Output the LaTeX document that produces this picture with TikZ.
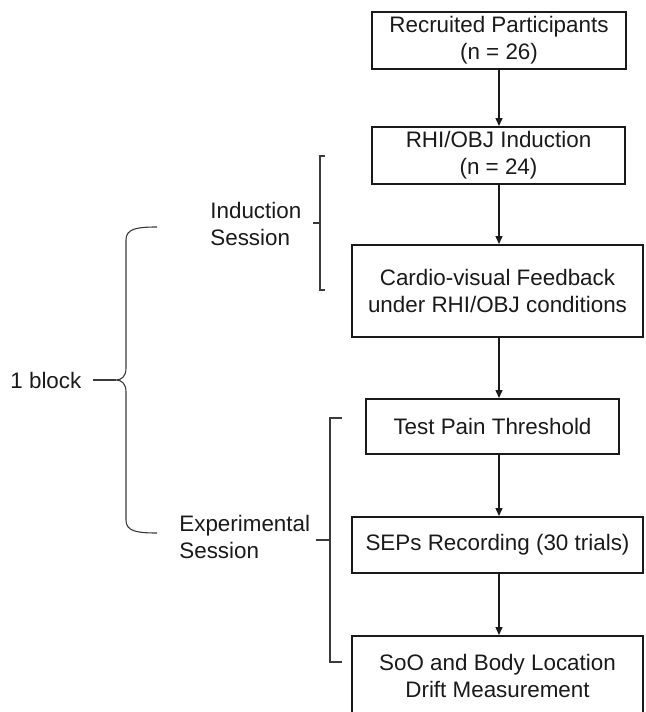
\documentclass[tikz,border=0pt]{standalone}
\usepackage{fontspec}
\setmainfont{Liberation Sans}
\usetikzlibrary{arrows.meta}
\definecolor{ink}{HTML}{1A1A1A}
\definecolor{brk}{HTML}{3A3A3A}
\begin{document}
\begin{tikzpicture}[x=0.5pt,y=-0.5pt,
  box/.style={draw=ink, line width=1pt, inner sep=0pt, align=center, text=ink,
    font=\fontsize{11.2}{13.5}\selectfont},
  lbl/.style={inner sep=0pt, align=left, anchor=west, text=ink,
    font=\fontsize{11.2}{13.5}\selectfont},
  arr/.style={draw=ink, line width=0.7pt, -{Triangle[length=4pt,width=3.5pt]}},
  brace/.style={draw=brk, line width=0.55pt}]
\path[use as bounding box] (0,0) rectangle (645,712);
\clip (0,0) rectangle (645,712);

% boxes
\node[box, minimum width=127pt, minimum height=28.5pt] (b1) at (499,40.5)
  {Recruited Participants\\(n = 26)};
\node[box, minimum width=126.5pt, minimum height=28.5pt] (b2) at (498.5,155.5)
  {RHI/OBJ Induction\\(n = 24)};
\node[box, minimum width=145.5pt, minimum height=46pt] (b3) at (497.5,291)
  {Cardio-visual Feedback\\under RHI/OBJ conditions};
\node[box, minimum width=126.5pt, minimum height=27.5pt] (b4) at (492.5,426.5)
  {Test Pain Threshold};
\node[box, minimum width=145.5pt, minimum height=28pt] (b5) at (497.5,545)
  {SEPs Recording (30 trials)};
\node[box, minimum width=145.5pt, minimum height=39.5pt] (b6) at (497.5,675.5)
  {SoO and Body Location\\Drift Measurement};

% arrows
\draw[arr] (b1.south) -- (b1.south |- b2.north);
\draw[arr] (b1.south |- b2.south) -- (b1.south |- b3.north);
\draw[arr] (b1.south |- b3.south) -- (b1.south |- b4.north);
\draw[arr] (b1.south |- b4.south) -- (b1.south |- b5.north);
\draw[arr] (b1.south |- b5.south) -- (b1.south |- b6.north);

% side labels
\node[lbl] (ind) at (210,223.5) {Induction\\Session};
\node[lbl] (exp) at (179,536.5) {Experimental\\Session};
\node[lbl] (blk) at (10,380) {1 block};

% induction bracket
\draw[brace] (325,156) -- (320,156) -- (320,290) -- (325,290);
\draw[brace] (320,223) -- (313,223);

% experimental bracket
\draw[brace] (342,418) -- (330,418) -- (330,662) -- (342,662);
\draw[brace] (330,540) -- (316,540);

% 1 block brace
\draw[brace] (157,227) .. controls (136,227) and (126,229) .. (126,240)
  -- (126,368) .. controls (126,376) and (122,380) .. (116,380)
  .. controls (122,380) and (126,384) .. (126,392)
  -- (126,520) .. controls (126,531) and (136,533) .. (157,533);
\draw[brace] ([xshift=5.5pt]blk.east) -- (116,380);
\end{tikzpicture}
\end{document}
